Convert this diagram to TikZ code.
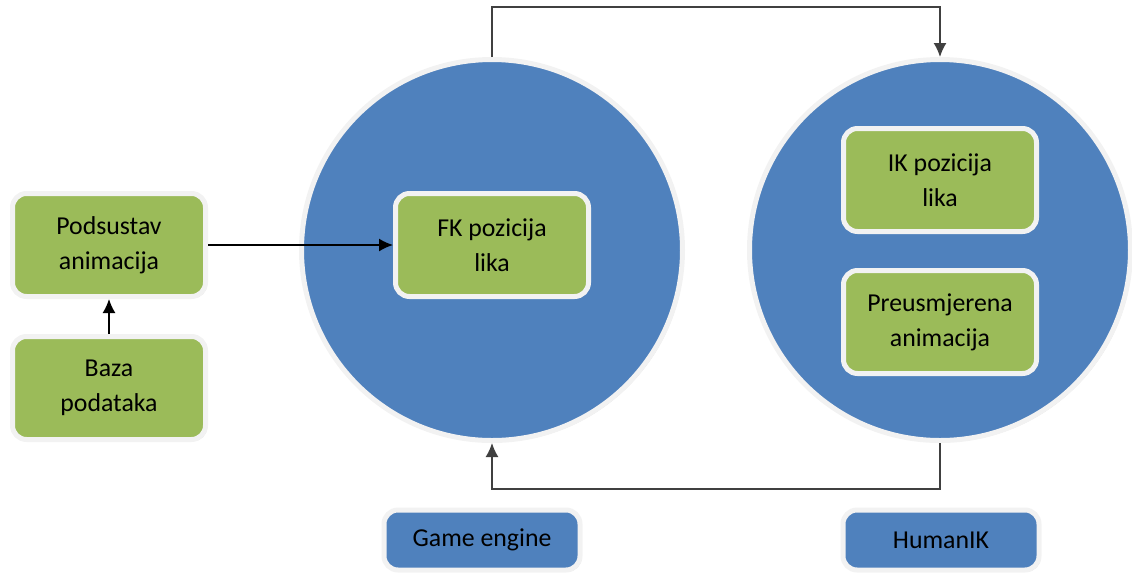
\documentclass[tikz,border=0pt]{standalone}
\usepackage{fontspec}
\setmainfont{Carlito}
\usetikzlibrary{shadows,arrows.meta}

\definecolor{pieblue}{HTML}{4F81BD}
\definecolor{boxgreen}{HTML}{9BBB59}
\definecolor{rimwhite}{HTML}{F2F2F2}

\tikzstyle{system}  = [circle,fill=pieblue,draw=rimwhite,line width=2.5pt,minimum size=190.5pt,
                       drop shadow={shadow xshift=0.8pt,shadow yshift=-0.8pt,opacity=0.4}]
\tikzstyle{part}    = [rounded corners=7pt,fill=boxgreen,draw=rimwhite,line width=2.5pt,
                       minimum width=96.5pt,minimum height=51.5pt,align=center,
                       font=\fontsize{12.9}{17.5}\selectfont,
                       drop shadow={shadow xshift=0.8pt,shadow yshift=-0.8pt,opacity=0.4}]
\tikzstyle{caption} = [part,fill=pieblue,minimum width=98pt,minimum height=30pt]
\tikzstyle{flow}    = [-{Latex[length=7pt,width=6.5pt]},line width=0.8pt]

\begin{document}
\begin{tikzpicture}[x=0.5pt,y=-0.5pt]
\useasboundingbox (0,0) rectangle (1132,575);
% Draw the two systems
\node[system] (engine) at (492,250) {};
\node[system] (human)  at (940,250) {};
% Draw the parts
\node[part] (anim) at (109,245) {Podsustav\\animacija};
\node[part] (base) at (109,388) {Baza\\podataka};
\node[part] (fk)   at (492,245) {FK pozicija\\lika};
\node[part] (ik)   at (940,180) {IK pozicija\\lika};
\node[part] (ret)  at (940,322) {Preusmjerena\\animacija};
% Draw the captions
\node[caption] (enginecap) at (482,540) {Game engine};
\node[caption] (humancap)  at (941,540) {HumanIK};
% Draw the connectors
\draw[flow] (base.north) -- (anim.south);
\draw[flow] (anim.east) -- (fk.west);
\draw[flow,draw=black!75] (engine.north) -- ++(0,-50) -| (human.north);
\draw[flow,draw=black!75] (human.south) -- ++(0,46) -| (engine.south);
\end{tikzpicture}
\end{document}
